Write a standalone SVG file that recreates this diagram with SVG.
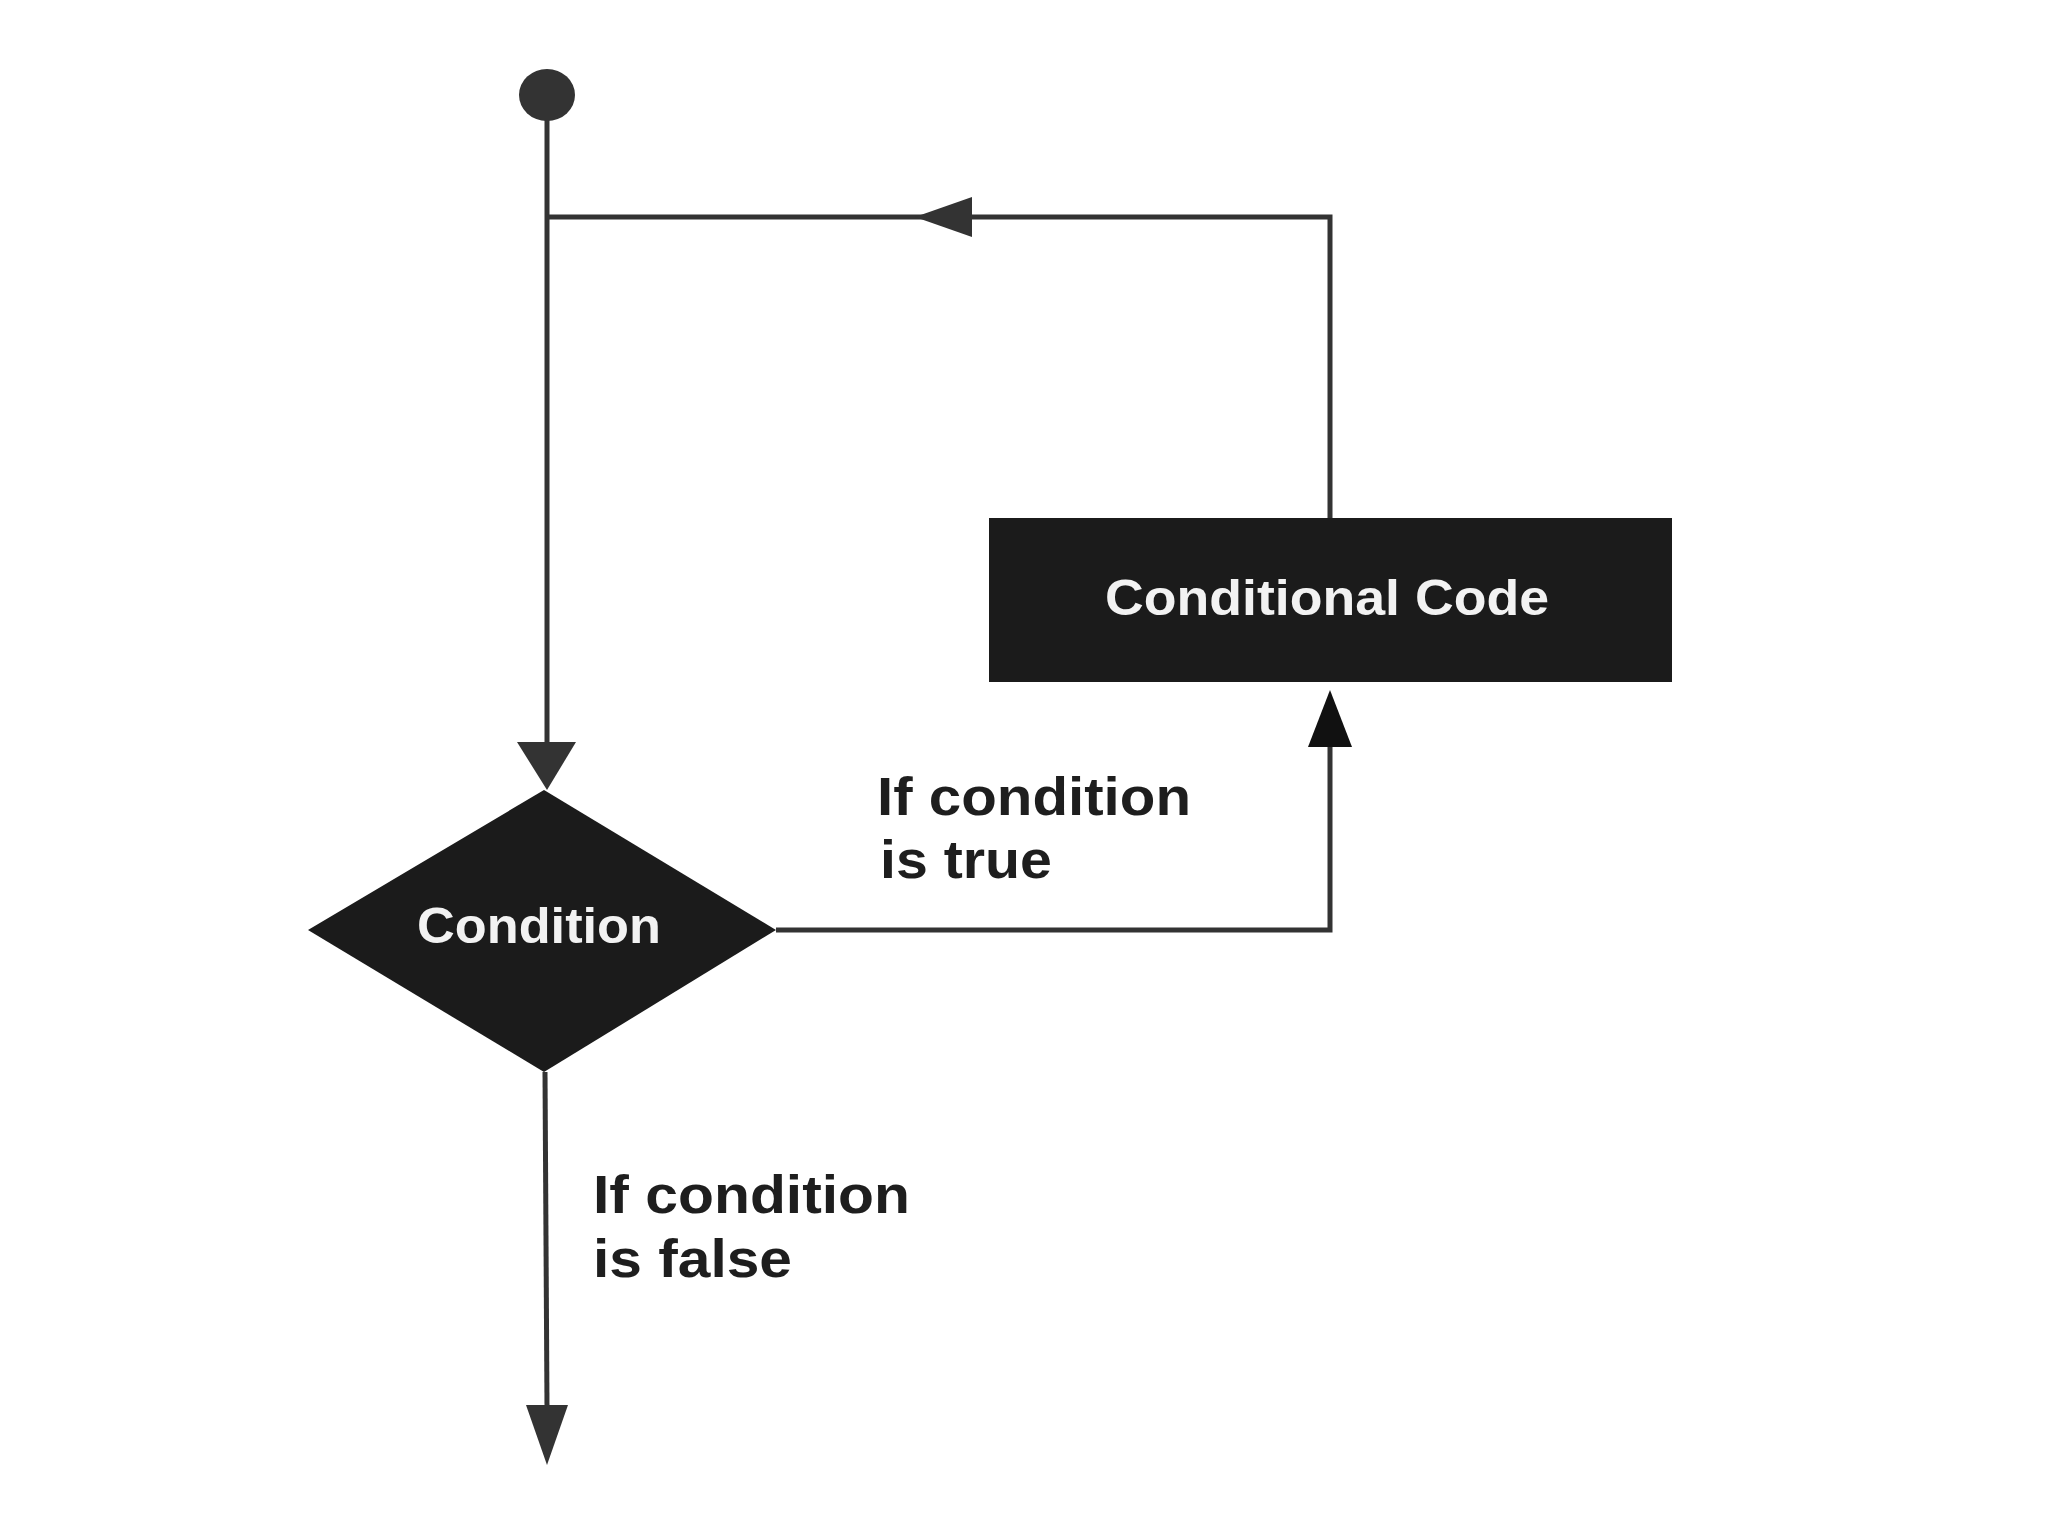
<svg xmlns="http://www.w3.org/2000/svg" width="2048" height="1536" viewBox="0 0 2048 1536">
<style>
.line{fill:none;stroke:#333;stroke-width:5;stroke-linejoin:miter}
.head{fill:#333}
.node{fill:#1b1b1b}
.start{fill:#333}
.ntext{font-family:"Liberation Sans",Arial,sans-serif;font-weight:bold;fill:#f2f2f2;font-size:50px}
.label{font-family:"Liberation Sans",Arial,sans-serif;font-weight:bold;fill:#1e1e1e;font-size:53px}
</style>
<rect width="2048" height="1536" fill="#fff"/>
<g id="connectors">
<path class="line" d="M547 95 V742"/>
<polygon class="head" points="517,742 576,742 547,790"/>
<path class="line" d="M1330 518 V217 H547"/>
<polygon class="head" points="915,217 972,197 972,237"/>
<path class="line" d="M776 930 H1330 V745"/>
<polygon class="head" fill="#111" style="fill:#111" points="1330,690 1308,747 1352,747"/>
<path class="line" d="M545 1072 L547 1407"/>
<polygon class="head" points="526,1405 568,1405 547,1465"/>
</g>
<g id="start">
<ellipse class="start" cx="547" cy="95" rx="28" ry="26"/>
</g>
<g id="conditional-code">
<rect class="node" x="989" y="518" width="683" height="164"/>
<text class="ntext" x="1105" y="615" textLength="444" lengthAdjust="spacingAndGlyphs">Conditional Code</text>
</g>
<g id="condition">
<polygon class="node" points="544,790 776,930 544,1072 308,930"/>
<text class="ntext" x="417" y="943" textLength="244" lengthAdjust="spacingAndGlyphs">Condition</text>
</g>
<g id="labels">
<text class="label" x="877" y="815" textLength="314" lengthAdjust="spacingAndGlyphs">If condition</text>
<text class="label" x="880" y="878" textLength="172" lengthAdjust="spacingAndGlyphs">is true</text>
<text class="label" x="593" y="1213" textLength="317" lengthAdjust="spacingAndGlyphs">If condition</text>
<text class="label" x="593" y="1277" textLength="199" lengthAdjust="spacingAndGlyphs">is false</text>
</g>
</svg>
